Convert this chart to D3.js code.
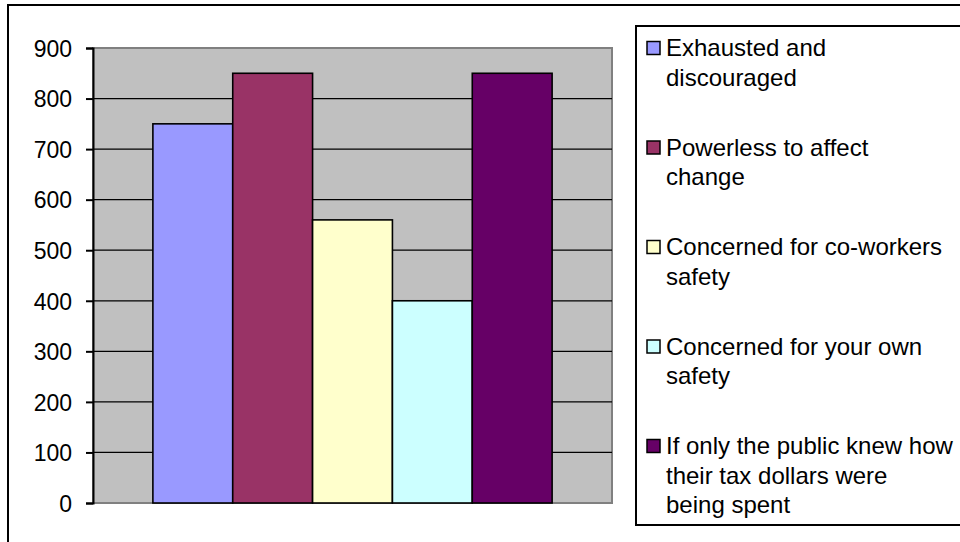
<!DOCTYPE html>
<html lang="en">
<head>
  <meta charset="UTF-8"/>
  <title>Bar chart</title>
  <style>
    * { margin: 0; padding: 0; }
    body { background: #fff; width: 960px; height: 542px; overflow: hidden; }
    svg { display: block; font-family: "Liberation Sans", Arial, sans-serif; }
    .y-axis text { font-size: 23px; fill: #000; }
    .legend text { font-size: 24px; fill: #000; }
  </style>
</head>
<body>
  <div id="chart"></div>

  <script src="https://cdn.jsdelivr.net/npm/d3@7/dist/d3.min.js"></script>
  <script>
    // --- data ---
    const series  = ['Exhausted and discouraged', 'Powerless to affect change', 'Concerned for co-workers safety',
                     'Concerned for your own safety', 'If only the public knew how their tax dollars were being spent']
    const values  = [750, 850, 560, 400, 850]
    const colors  = ['#9999FF', '#993366', '#FFFFCC', '#CCFFFF', '#660066']
    // legend wrapping as it appears in the reference
    const legendLines = [
      ['Exhausted and', 'discouraged'],
      ['Powerless to affect', 'change'],
      ['Concerned for co-workers', 'safety'],
      ['Concerned for your own', 'safety'],
      ['If only the public knew how', 'their tax dollars were', 'being spent'],
    ]
    const yTicks  = [0, 100, 200, 300, 400, 500, 600, 700, 800, 900]

    const W = 960, H = 542
    const plot = { left: 93, right: 612, top: 48, bottom: 503 }

    const svg = d3.select('#chart').append('svg')
      .attr('width', W).attr('height', H)

    // outer chart border (right/bottom run off the picture)
    svg.append('rect')
      .attr('x', 8).attr('y', 5)
      .attr('width', W).attr('height', H)
      .attr('fill', '#fff').attr('stroke', '#000').attr('stroke-width', 2)

    const y = d3.scaleLinear().domain([0, 900]).range([plot.bottom, plot.top])

    const x0 = d3.scaleBand().domain(['']).range([plot.left, plot.right])
      .paddingInner(0).paddingOuter(0.15)
    const x1 = d3.scaleBand().domain(series).range([0, x0.bandwidth()])

    // plot area
    svg.append('rect')
      .attr('x', plot.left).attr('y', plot.top)
      .attr('width', plot.right - plot.left).attr('height', plot.bottom - plot.top)
      .attr('fill', '#C0C0C0').attr('stroke', '#808080').attr('stroke-width', 2)

    // gridlines
    svg.append('g')
      .selectAll('line')
      .data(yTicks.filter(t => t > 0 && t < 900))
      .join('line')
        .attr('x1', plot.left).attr('x2', plot.right)
        .attr('y1', d => y(d)).attr('y2', d => y(d))
        .attr('stroke', '#000').attr('stroke-width', 1.2)

    // bars
    svg.append('g')
      .attr('transform', `translate(${x0('')},0)`)
      .selectAll('rect')
      .data(series)
      .join('rect')
        .attr('x', d => x1(d))
        .attr('y', (d, i) => y(values[i]))
        .attr('width', x1.bandwidth())
        .attr('height', (d, i) => y(0) - y(values[i]))
        .attr('fill', (d, i) => colors[i])
        .attr('stroke', '#000').attr('stroke-width', 1.6)

    // y axis
    const yAxis = svg.append('g')
      .attr('class', 'y-axis')
      .attr('transform', `translate(${plot.left},0)`)
      .call(d3.axisLeft(y).tickValues(yTicks).tickSize(7).tickPadding(14).tickFormat(d3.format('d')))
    yAxis.select('.domain').attr('stroke', '#000').attr('stroke-width', 2)
    yAxis.selectAll('.tick line').attr('stroke', '#000').attr('stroke-width', 2)
    yAxis.selectAll('.tick text').attr('font-size', 23).attr('font-family', null).attr('dy', '0.36em')

    // legend
    const lg = { left: 636, top: 26, bottom: 525 }
    svg.append('rect')
      .attr('x', lg.left).attr('y', lg.top)
      .attr('width', W).attr('height', lg.bottom - lg.top)
      .attr('fill', '#fff').attr('stroke', '#000').attr('stroke-width', 2)

    const items = svg.append('g').attr('class', 'legend')
      .selectAll('g')
      .data(series)
      .join('g')
        .attr('transform', (d, i) => `translate(${lg.left}, ${56 + i * 99.5})`)

    items.append('rect')
      .attr('x', 11).attr('y', -14.5)
      .attr('width', 13).attr('height', 13)
      .attr('fill', (d, i) => colors[i])
      .attr('stroke', '#000').attr('stroke-width', 1.5)

    items.append('text')
      .attr('x', 30)
      .selectAll('tspan')
      .data((d, i) => legendLines[i])
      .join('tspan')
        .attr('x', 30)
        .attr('y', (d, j) => j * 29.5)
        .text(d => d)
  </script>
</body>
</html>
